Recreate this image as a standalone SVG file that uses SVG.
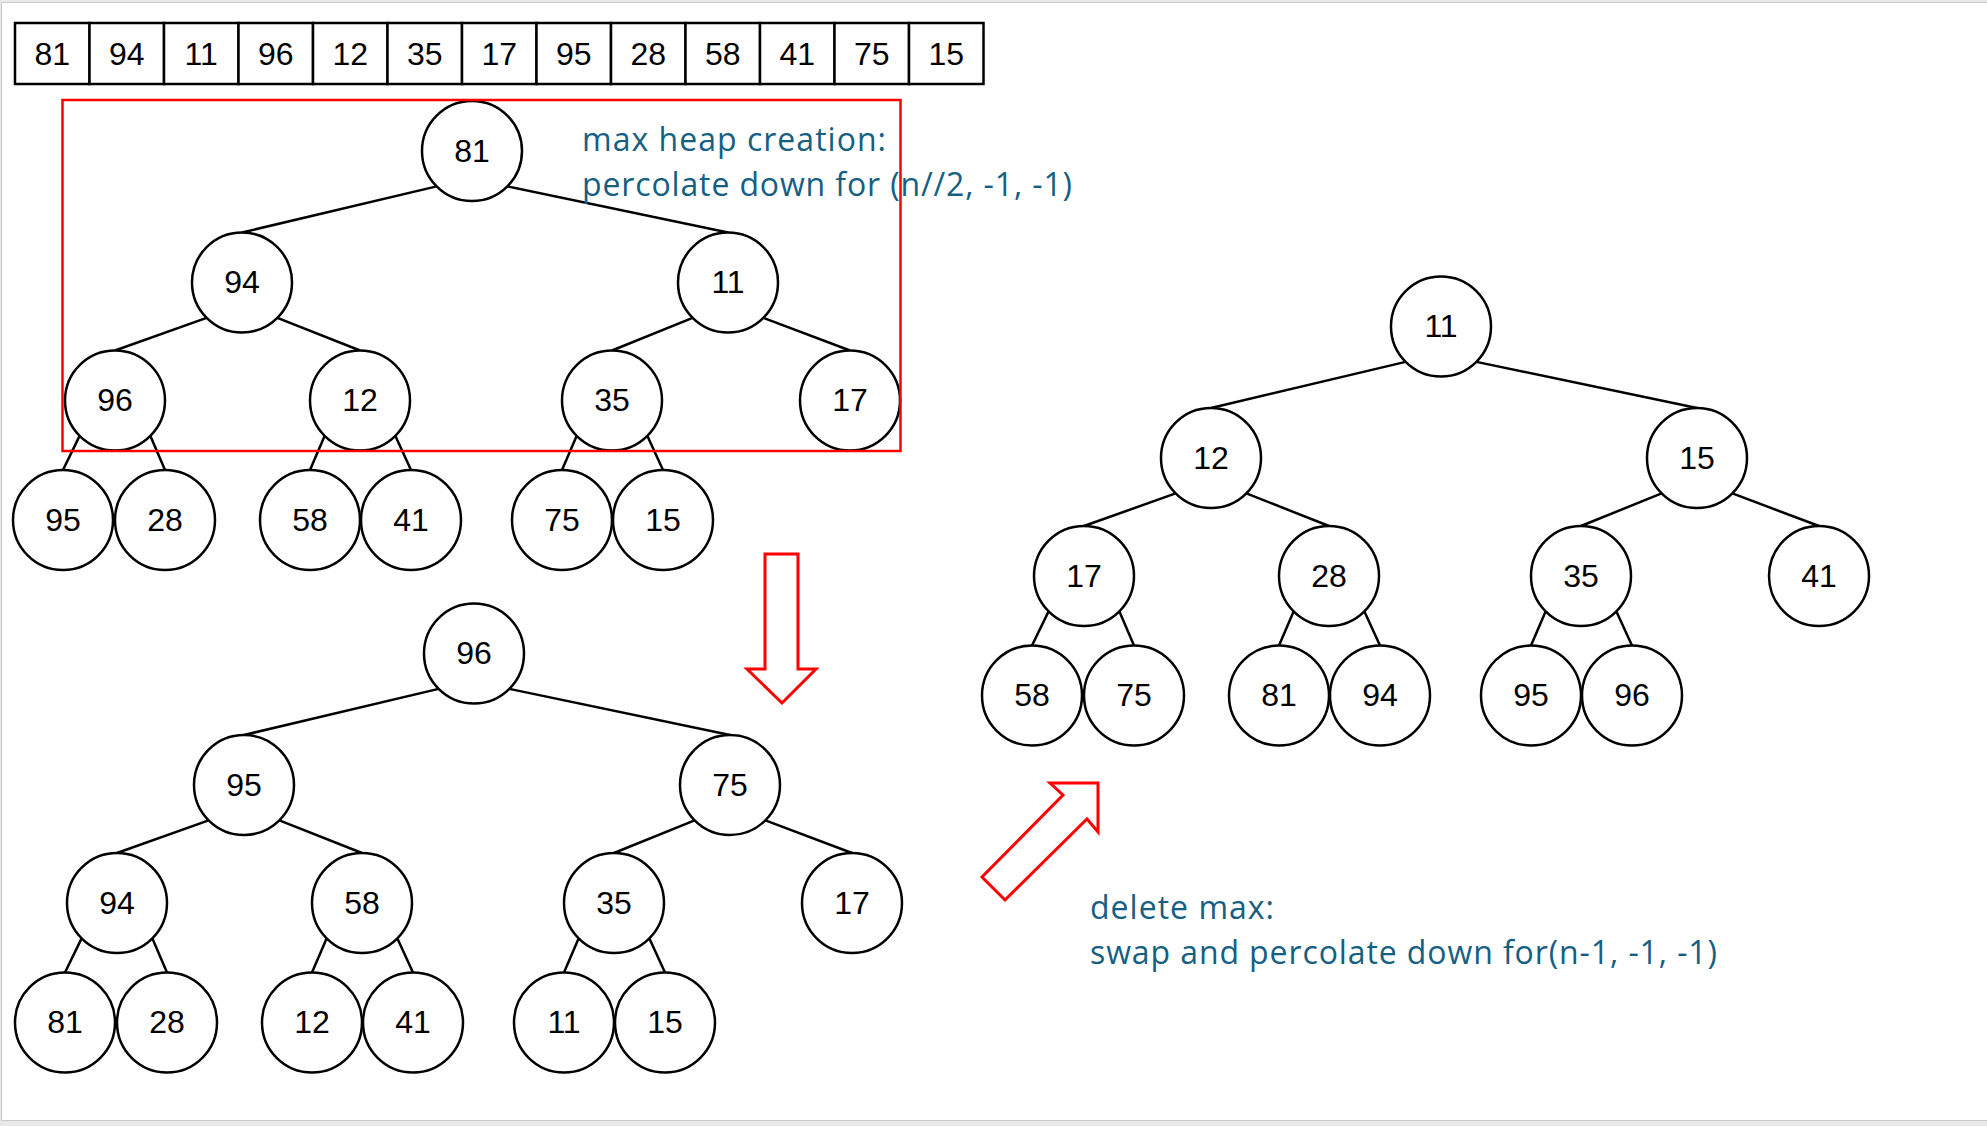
<svg xmlns="http://www.w3.org/2000/svg" width="1987" height="1126" viewBox="0 0 1987 1126">
<style>
.nd circle{fill:#fff;stroke:#000;stroke-width:2.5}
.nd text,.cell text{font-family:"Liberation Sans",Arial,sans-serif;font-size:32px;fill:#000;text-anchor:middle}
.cell rect{fill:#fff;stroke:#000;stroke-width:2.5}
.edges line{stroke:#000;stroke-width:2.5}
.note{font-family:"Open Sans","Noto Sans",sans-serif;font-size:32px;fill:#156082}
.red{fill:none;stroke:#ff0000;stroke-width:2.5}
.redarrow{fill:#fff;stroke:#ff0000;stroke-width:3;stroke-linejoin:miter}
</style>
<rect x="0" y="0" width="1987" height="1126" fill="#e9e9e9"/>
<rect x="1.5" y="2.5" width="1990" height="1118" fill="#fff" stroke="#c8c8c8" stroke-width="1"/>

<g id="array">
<g class="cell"><rect x="15" y="23" width="74.5" height="61"/><text x="52.2" y="65">81</text></g>
<g class="cell"><rect x="89.5" y="23" width="74.5" height="61"/><text x="126.7" y="65">94</text></g>
<g class="cell"><rect x="164" y="23" width="74.5" height="61"/><text x="201.2" y="65">11</text></g>
<g class="cell"><rect x="238.5" y="23" width="74.5" height="61"/><text x="275.7" y="65">96</text></g>
<g class="cell"><rect x="313" y="23" width="74.5" height="61"/><text x="350.2" y="65">12</text></g>
<g class="cell"><rect x="387.5" y="23" width="74.5" height="61"/><text x="424.7" y="65">35</text></g>
<g class="cell"><rect x="462" y="23" width="74.5" height="61"/><text x="499.2" y="65">17</text></g>
<g class="cell"><rect x="536.5" y="23" width="74.5" height="61"/><text x="573.7" y="65">95</text></g>
<g class="cell"><rect x="611" y="23" width="74.5" height="61"/><text x="648.2" y="65">28</text></g>
<g class="cell"><rect x="685.5" y="23" width="74.5" height="61"/><text x="722.7" y="65">58</text></g>
<g class="cell"><rect x="760" y="23" width="74.5" height="61"/><text x="797.2" y="65">41</text></g>
<g class="cell"><rect x="834.5" y="23" width="74.5" height="61"/><text x="871.7" y="65">75</text></g>
<g class="cell"><rect x="909" y="23" width="74.5" height="61"/><text x="946.2" y="65">15</text></g>
</g>

<g id="connectors" class="edges">
<!-- tree A -->
<line x1="436.6" y1="186.4" x2="242" y2="232.5"/>
<line x1="507.4" y1="186.4" x2="728" y2="232.5"/>
<line x1="206.6" y1="317.9" x2="115" y2="350.5"/>
<line x1="277.4" y1="317.9" x2="360" y2="350.5"/>
<line x1="692.6" y1="317.9" x2="612" y2="350.5"/>
<line x1="763.4" y1="317.9" x2="850" y2="350.5"/>
<line x1="79.6" y1="435.9" x2="63" y2="470"/>
<line x1="150.4" y1="435.9" x2="165" y2="470"/>
<line x1="324.6" y1="435.9" x2="310" y2="470"/>
<line x1="395.4" y1="435.9" x2="411" y2="470"/>
<line x1="576.6" y1="435.9" x2="562" y2="470"/>
<line x1="647.4" y1="435.9" x2="663" y2="470"/>
<!-- tree B -->
<line x1="438.6" y1="688.9" x2="244" y2="735"/>
<line x1="509.4" y1="688.9" x2="730" y2="735"/>
<line x1="208.6" y1="820.4" x2="117" y2="853"/>
<line x1="279.4" y1="820.4" x2="362" y2="853"/>
<line x1="694.6" y1="820.4" x2="614" y2="853"/>
<line x1="765.4" y1="820.4" x2="852" y2="853"/>
<line x1="81.6" y1="938.4" x2="65" y2="972.5"/>
<line x1="152.4" y1="938.4" x2="167" y2="972.5"/>
<line x1="326.6" y1="938.4" x2="312" y2="972.5"/>
<line x1="397.4" y1="938.4" x2="413" y2="972.5"/>
<line x1="578.6" y1="938.4" x2="564" y2="972.5"/>
<line x1="649.4" y1="938.4" x2="665" y2="972.5"/>
<!-- tree C -->
<line x1="1405.6" y1="361.9" x2="1211" y2="408"/>
<line x1="1476.4" y1="361.9" x2="1697" y2="408"/>
<line x1="1175.6" y1="493.4" x2="1084" y2="526"/>
<line x1="1246.4" y1="493.4" x2="1329" y2="526"/>
<line x1="1661.6" y1="493.4" x2="1581" y2="526"/>
<line x1="1732.4" y1="493.4" x2="1819" y2="526"/>
<line x1="1048.6" y1="611.4" x2="1032" y2="645.5"/>
<line x1="1119.4" y1="611.4" x2="1134" y2="645.5"/>
<line x1="1293.6" y1="611.4" x2="1279" y2="645.5"/>
<line x1="1364.4" y1="611.4" x2="1380" y2="645.5"/>
<line x1="1545.6" y1="611.4" x2="1531" y2="645.5"/>
<line x1="1616.4" y1="611.4" x2="1632" y2="645.5"/>
</g>

<!-- tree A: initial array as tree -->
<g id="a-81" class="nd" transform="translate(472,151)"><circle r="50"/><text y="10.5">81</text></g>
<g id="a-94" class="nd" transform="translate(242,282.5)"><circle r="50"/><text y="10.5">94</text></g>
<g id="a-11" class="nd" transform="translate(728,282.5)"><circle r="50"/><text y="10.5">11</text></g>
<g id="a-96" class="nd" transform="translate(115,400.5)"><circle r="50"/><text y="10.5">96</text></g>
<g id="a-12" class="nd" transform="translate(360,400.5)"><circle r="50"/><text y="10.5">12</text></g>
<g id="a-35" class="nd" transform="translate(612,400.5)"><circle r="50"/><text y="10.5">35</text></g>
<g id="a-17" class="nd" transform="translate(850,400.5)"><circle r="50"/><text y="10.5">17</text></g>
<g id="a-95" class="nd" transform="translate(63,520)"><circle r="50"/><text y="10.5">95</text></g>
<g id="a-28" class="nd" transform="translate(165,520)"><circle r="50"/><text y="10.5">28</text></g>
<g id="a-58" class="nd" transform="translate(310,520)"><circle r="50"/><text y="10.5">58</text></g>
<g id="a-41" class="nd" transform="translate(411,520)"><circle r="50"/><text y="10.5">41</text></g>
<g id="a-75" class="nd" transform="translate(562,520)"><circle r="50"/><text y="10.5">75</text></g>
<g id="a-15" class="nd" transform="translate(663,520)"><circle r="50"/><text y="10.5">15</text></g>

<!-- tree B: max heap -->
<g id="b-96" class="nd" transform="translate(474,653.5)"><circle r="50"/><text y="10.5">96</text></g>
<g id="b-95" class="nd" transform="translate(244,785)"><circle r="50"/><text y="10.5">95</text></g>
<g id="b-75" class="nd" transform="translate(730,785)"><circle r="50"/><text y="10.5">75</text></g>
<g id="b-94" class="nd" transform="translate(117,903)"><circle r="50"/><text y="10.5">94</text></g>
<g id="b-58" class="nd" transform="translate(362,903)"><circle r="50"/><text y="10.5">58</text></g>
<g id="b-35" class="nd" transform="translate(614,903)"><circle r="50"/><text y="10.5">35</text></g>
<g id="b-17" class="nd" transform="translate(852,903)"><circle r="50"/><text y="10.5">17</text></g>
<g id="b-81" class="nd" transform="translate(65,1022.5)"><circle r="50"/><text y="10.5">81</text></g>
<g id="b-28" class="nd" transform="translate(167,1022.5)"><circle r="50"/><text y="10.5">28</text></g>
<g id="b-12" class="nd" transform="translate(312,1022.5)"><circle r="50"/><text y="10.5">12</text></g>
<g id="b-41" class="nd" transform="translate(413,1022.5)"><circle r="50"/><text y="10.5">41</text></g>
<g id="b-11" class="nd" transform="translate(564,1022.5)"><circle r="50"/><text y="10.5">11</text></g>
<g id="b-15" class="nd" transform="translate(665,1022.5)"><circle r="50"/><text y="10.5">15</text></g>

<!-- tree C: after delete max -->
<g id="c-11" class="nd" transform="translate(1441,326.5)"><circle r="50"/><text y="10.5">11</text></g>
<g id="c-12" class="nd" transform="translate(1211,458)"><circle r="50"/><text y="10.5">12</text></g>
<g id="c-15" class="nd" transform="translate(1697,458)"><circle r="50"/><text y="10.5">15</text></g>
<g id="c-17" class="nd" transform="translate(1084,576)"><circle r="50"/><text y="10.5">17</text></g>
<g id="c-28" class="nd" transform="translate(1329,576)"><circle r="50"/><text y="10.5">28</text></g>
<g id="c-35" class="nd" transform="translate(1581,576)"><circle r="50"/><text y="10.5">35</text></g>
<g id="c-41" class="nd" transform="translate(1819,576)"><circle r="50"/><text y="10.5">41</text></g>
<g id="c-58" class="nd" transform="translate(1032,695.5)"><circle r="50"/><text y="10.5">58</text></g>
<g id="c-75" class="nd" transform="translate(1134,695.5)"><circle r="50"/><text y="10.5">75</text></g>
<g id="c-81" class="nd" transform="translate(1279,695.5)"><circle r="50"/><text y="10.5">81</text></g>
<g id="c-94" class="nd" transform="translate(1380,695.5)"><circle r="50"/><text y="10.5">94</text></g>
<g id="c-95" class="nd" transform="translate(1531,695.5)"><circle r="50"/><text y="10.5">95</text></g>
<g id="c-96" class="nd" transform="translate(1632,695.5)"><circle r="50"/><text y="10.5">96</text></g>

<g id="highlight-box"><rect class="red" x="62.5" y="100" width="838" height="351"/></g>

<g id="arrow-down"><polygon class="redarrow" points="765,554 798,554 798,669 816,669 782,703 747,669 765,669"/></g>
<g id="arrow-diag"><polygon class="redarrow" points="1098,783 1050,783 1063,795 982,877 1005,900 1087,819 1098,832"/></g>

<g id="note-create">
<text class="note" x="582" y="151" textLength="304" lengthAdjust="spacing">max heap creation:</text>
<text class="note" x="582" y="196" textLength="490" lengthAdjust="spacing">percolate down for (n//2, -1, -1)</text>
</g>
<g id="note-delete">
<text class="note" x="1090" y="919" textLength="184" lengthAdjust="spacing">delete max:</text>
<text class="note" x="1090" y="964" textLength="627" lengthAdjust="spacing">swap and percolate down for(n-1, -1, -1)</text>
</g>
</svg>
